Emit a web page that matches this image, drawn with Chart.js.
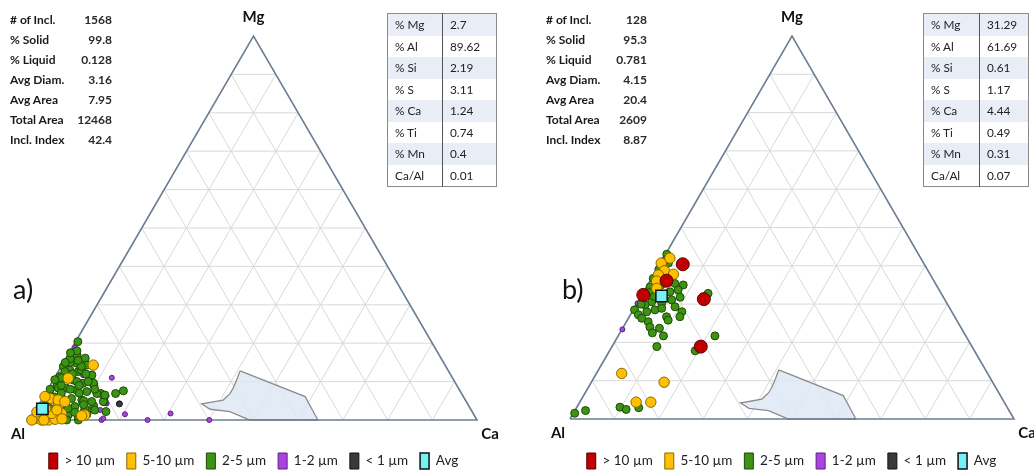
<!DOCTYPE html>
<html>
<head>
<meta charset="utf-8">
<title>Mg–Al–Ca inclusion ternary diagrams</title>
<script src="https://cdn.jsdelivr.net/npm/chart.js@4.4.1/dist/chart.umd.min.js"></script>
<style>
  html, body { margin: 0; padding: 0; background: #fff; }
  body { width: 1034px; height: 472px; position: relative; overflow: hidden;
         font-family: Lato, "Open Sans", sans-serif; color: #1a1a1a; }
  canvas { position: absolute; top: 0; }
  .stats { position: absolute; top: 10px; font-size: 12px; }
  .stats .row { height: 20px; line-height: 20px; display: flex; justify-content: space-between; }
  .stats .lab { font-weight: 700; }
  .stats .val { font-weight: 700; color: #2a2a2a; }
  table.comp { position: absolute; top: 13px; border-collapse: collapse; font-size: 11.8px;
               border: 1px solid #8a8a8a; table-layout: fixed; }
  table.comp td { height: 21.5px; padding: 0 0 0 7px; white-space: nowrap; color: #222; }
  table.comp td.k { border-right: 1.5px solid #555; }
  table.comp tr.alt td { background: #e8edf6; }
  .panel { position: absolute; font-size: 27px; color: #111; }
</style>
</head>
<body>
<canvas id="chartA" width="517" height="479" style="left:-5px"></canvas>
<canvas id="chartB" width="517" height="479" style="left:533px"></canvas>
<div class="panel" style="left:13px; top:272px;">a)</div>
<div class="panel" style="left:562px; top:272px;">b)</div>

<script>
// ---- Inclusion statistics ----
const statLabels = ['# of Incl.', '% Solid', '% Liquid', 'Avg Diam.', 'Avg Area', 'Total Area', 'Incl. Index'];
const statsA = ['1568', '99.8', '0.128', '3.16', '7.95', '12468', '42.4'];
const statsB = ['128', '95.3', '0.781', '4.15', '20.4', '2609', '8.87'];

// ---- Average composition tables ----
const compLabels = ['% Mg', '% Al', '% Si', '% S', '% Ca', '% Ti', '% Mn', 'Ca/Al'];
const compA = [2.7, 89.62, 2.19, 3.11, 1.24, 0.74, 0.4, 0.01];
const compB = [31.29, 61.69, 0.61, 1.17, 4.44, 0.49, 0.31, 0.07];

// ---- Size classes (legend) ----
const sizeLabels = ['> 10 µm', '5-10 µm', '2-5 µm', '1-2 µm', '< 1 µm', 'Avg'];

// ---- Inclusions, each as [% Mg, % Ca] of the Mg–Al–Ca sum (Al is the rest) ----
const a_gt10 = [];
const a_5to10 = [
  [0.4, 0.9], [0, 2.6], [0, 4.1], [0.2, 5.5], [1.7, 6.2], [1.3, 11.6], [1.3, 1.2], [1.7, 4.0],
  [3.9, 4.4], [5.6, 1.7], [5.2, 3.7], [4.8, 5.4], [2.6, 4.7], [10.9, 3.1], [14.3, 7.0], [6.1, 0.3],
  [1.1, 11.0], [0, 3.1], [0, 0.4], [2.1, 0.5], [0.3, 7.0], [3.0, 2.0]
];
const a_2to5 = [
  [20.4, 0.5], [16.1, 4.3], [11.3, 7.9], [9.1, 9.7], [6.9, 12.4], [6.9, 15.7], [7.6, 17.1], [4.8, 14.2],
  [3.7, 12.4], [2.2, 15.9], [0, 10.8], [14.8, 3.0], [13.9, 0.5], [13.0, 2.4], [12.6, 4.5], [14.3, 5.5],
  [11.7, 8.0], [11.3, 1.0], [10.4, 4.5], [9.6, 7.1], [9.6, 9.4], [8.7, 1.6], [8.3, 4.0], [7.8, 6.5],
  [7.4, 9.0], [6.9, 11.5], [6.1, 1.8], [5.6, 6.5], [5.2, 9.0], [4.8, 11.4], [3.5, 8.3], [3.0, 10.8],
  [2.6, 13.2], [1.3, 7.9], [0.9, 10.4], [0, 8.2], [8.3, 2.2], [12.6, 1.5], [4.8, 14.0], [6.5, 13.5],
  [3, 3], [4, 6], [6, 4], [8, 5], [10, 5.5], [12, 3.5], [9, 2.5], [7, 7.5], [5, 9.5], [3, 7],
  [2, 9], [1, 6.5], [11, 1.5], [13, 5], [15, 1.5], [17, 2], [14, 4.5], [10, 8], [8, 10.5], [6, 2.5],
  [4, 1.5], [2, 3], [12, 6.5], [16, 1], [18, 1.5], [15.5, 3], [11, 3], [9, 6.5], [7, 3.5], [5, 5],
  [3, 5], [2, 11], [4, 10], [1.5, 12], [17.5, 0.3], [15, 0.4], [10.5, 0.3], [8, 0.5]
];
const a_1to2 = [
  [18.9, 0.6], [11.7, 6.0], [11.0, 12.8], [6.25, 14.0], [1.5, 20.5], [0, 16.0], [0, 26.3], [1.7, 30.6],
  [0, 40.1], [1.6, 12.2], [2.6, 12.0], [4.3, 9.4], [4.3, 15.0], [2.6, 14.4], [0.4, 16.2]
];
const a_lt1 = [[4.2, 17.9]];

const b_gt10 = [[40.4, 5.2], [36.1, 3.7], [32.4, 0.3], [31.3, 14.5], [18.9, 20.0]];
const b_5to10 = [
  [40.7, 0.2], [42.0, 1.5], [38.7, 1.9], [37.6, 1.1], [37.8, 4.4], [36.0, 1.5], [34.1, 2.5],
  [11.9, 5.7], [9.6, 16.4], [4.4, 12.7], [4.4, 16.0]
];
const b_2to5 = [
  [43.0, 0.3], [40.7, 1.8], [36.7, 0.4], [34.5, 0.8], [35.4, 5.9], [35.0, 8.0], [33.7, 7.5], [33.2, 5.9],
  [31.8, 8.9], [31.1, 7.35], [30.2, 5.55], [30.6, 3.1], [29.8, 2.0], [28.5, 0.3], [27.2, 1.8], [28.0, 3.3],
  [28.5, 4.9], [28.9, 6.2], [29.3, 9.0], [28.0, 11.2], [26.7, 11.4], [26.7, 8.4], [25.8, 9.2], [25.4, 4.9],
  [26.3, 3.0], [23.7, 8.3], [21.7, 10.2], [21.7, 21.8], [32.8, 14.7], [18.9, 10.1], [17.8, 19.3],
  [1.5, 0.3], [2.2, 2.4], [3.1, 9.7], [2.5, 11.4], [2.95, 14.0],
  [39, 0.5], [41.5, 0.8], [37, 2.5], [35, 3], [33, 1.5], [32, 3], [30, 1], [24, 6], [22.5, 7.3]
];
const b_1to2 = [[30.2, 0.1], [23.4, 0.1]];
const b_lt1 = [];

// Liquid calcium-aluminate window, [% Mg, % Ca]
const liquidRegion = [
  [12.8, 40.6], [6.1, 58.5], [0, 64.4], [0, 49.2], [1.0, 46.6], [2.2, 43.6], [2.8, 38.9],
  [4.2, 36.3], [4.7, 38.6], [5.2, 40.6], [6.8, 41.3], [8.3, 41.3], [10.6, 41.0], [12.8, 40.6]
];

// ---- Ternary helpers: x runs Al -> Ca along the base, y is the Mg fraction ----
function toXY(mg, ca) {
  const m = mg / 100, c = ca / 100;
  return { x: c + m / 2, y: m };
}
const pts = arr => arr.map(p => toXY(p[0], p[1]));
function avgPoint(comp) {
  const mg = comp[0], al = comp[1], ca = comp[4];
  const s = mg + al + ca;
  return [toXY(100 * mg / s, 100 * ca / s)];
}

function lineDs(data, color, width, order, extra) {
  return Object.assign({
    type: 'line', label: '', data, borderColor: color, borderWidth: width,
    pointRadius: 0, fill: false, tension: 0, order, inLegend: false, clip: false
  }, extra || {});
}

function gridDatasets() {
  const ds = [];
  for (let k = 1; k < 10; k++) {
    const f = k / 10;
    ds.push(lineDs([{ x: f / 2, y: f }, { x: 1 - f / 2, y: f }], '#d9d9d9', 1, 10));        // constant Mg
    ds.push(lineDs([{ x: f, y: 0 }, { x: (1 + f) / 2, y: 1 - f }], '#d9d9d9', 1, 10));      // constant Ca
    ds.push(lineDs([{ x: 1 - f, y: 0 }, { x: (1 - f) / 2, y: 1 - f }], '#d9d9d9', 1, 10));  // constant Al
  }
  return ds;
}

function pointDs(label, data, bg, border, radius, style) {
  return {
    type: 'scatter', label, data, backgroundColor: bg, borderColor: border, borderWidth: 1,
    pointRadius: radius, pointHoverRadius: radius, pointStyle: style || 'circle',
    order: 0, inLegend: true, clip: false
  };
}

// Places the triangle corners (canvas pixels) by setting the linear scale ranges after layout
const pinTriangle = {
  id: 'pinTriangle',
  afterLayout(chart) {
    const o = chart.options.plugins.pinTriangle;
    const area = chart.chartArea;
    const xs = chart.scales.x, ys = chart.scales.y;
    const spanX = o.caX - o.alX;
    xs.min = -(o.alX - area.left) / spanX;
    xs.max = xs.min + (area.right - area.left) / spanX;
    const spanY = o.baseY - o.apexY;
    ys.min = -(area.bottom - o.baseY) / spanY;
    ys.max = ys.min + (area.bottom - area.top) / spanY;
    xs.configure();
    ys.configure();
  }
};

// Corner names
const cornerLabels = {
  id: 'cornerLabels',
  afterDatasetsDraw(chart) {
    const { ctx } = chart;
    const xs = chart.scales.x, ys = chart.scales.y;
    const al = [xs.getPixelForValue(0), ys.getPixelForValue(0)];
    const ca = [xs.getPixelForValue(1), ys.getPixelForValue(0)];
    const mg = [xs.getPixelForValue(0.5), ys.getPixelForValue(1)];
    ctx.save();
    ctx.font = 'bold 15px Lato, "Open Sans", sans-serif';
    ctx.fillStyle = '#111';
    ctx.textAlign = 'center';
    ctx.textBaseline = 'middle';
    ctx.fillText('Mg', mg[0], mg[1] - 19);
    ctx.fillText('Al', al[0] - 12, al[1] + 14);
    ctx.fillText('Ca', ca[0] + 13, ca[1] + 14);
    ctx.restore();
  }
};

function makeTernary(id, sets, comp, pin) {
  const datasets = [
    pointDs(sizeLabels[0], pts(sets[0]), '#c00000', '#5a0000', 6.5),
    pointDs(sizeLabels[1], pts(sets[1]), '#ffc000', '#8a6700', 5.2),
    pointDs(sizeLabels[2], pts(sets[2]), '#3c9412', '#1d4a06', 4),
    pointDs(sizeLabels[3], pts(sets[3]), '#a844e0', '#5b1f80', 2.5),
    pointDs(sizeLabels[4], pts(sets[4]), '#3a3a3a', '#111111', 3),
    Object.assign(pointDs(sizeLabels[5], avgPoint(comp), '#72f3f6', '#111111', 8, 'rect'), { borderWidth: 1.5, order: -1 }),
    lineDs(pts(liquidRegion), '#8c8c8c', 1.3, 9, { fill: 'shape', backgroundColor: 'rgba(222,233,245,0.85)' }),
    lineDs([{ x: 0, y: 0 }, { x: 1, y: 0 }, { x: 0.5, y: 1 }, { x: 0, y: 0 }], '#6b7d92', 1.6, 8),
    ...gridDatasets()
  ];
  return new Chart(document.getElementById(id), {
    type: 'scatter',
    data: { datasets },
    plugins: [pinTriangle, cornerLabels],
    options: {
      responsive: false,
      devicePixelRatio: 1,
      animation: false,
      events: [],
      layout: { padding: 0 },
      scales: {
        x: { type: 'linear', display: false, min: 0, max: 1 },
        y: { type: 'linear', display: false, min: 0, max: 1 }
      },
      plugins: {
        pinTriangle: pin,
        tooltip: { enabled: false },
        legend: {
          position: 'bottom',
          labels: {
            boxWidth: 9, boxHeight: 16, padding: 12, color: '#222',
            font: { family: 'Lato', size: 13.5 },
            filter: (item, data) => data.datasets[item.datasetIndex].inLegend,
            sort: (a, b) => a.datasetIndex - b.datasetIndex
          }
        }
      }
    }
  });
}

// ---- Text blocks ----
function addStats(values, left, width) {
  const d = document.createElement('div');
  d.className = 'stats';
  d.style.left = left + 'px';
  d.style.width = width + 'px';
  statLabels.forEach((l, i) => {
    const r = document.createElement('div');
    r.className = 'row';
    r.innerHTML = '<span class="lab"></span><span class="val"></span>';
    r.children[0].textContent = l;
    r.children[1].textContent = values[i];
    d.appendChild(r);
  });
  document.body.appendChild(d);
}
function addTable(values, left, width, keyWidth) {
  const t = document.createElement('table');
  t.className = 'comp';
  t.style.left = left + 'px';
  t.style.width = width + 'px';
  const cg = document.createElement('colgroup');
  cg.innerHTML = '<col style="width:' + keyWidth + 'px"><col>';
  t.appendChild(cg);
  compLabels.forEach((l, i) => {
    const tr = document.createElement('tr');
    if (i % 2 === 0) tr.className = 'alt';
    const k = document.createElement('td'); k.className = 'k'; k.textContent = l;
    const v = document.createElement('td'); v.textContent = String(values[i]);
    tr.appendChild(k); tr.appendChild(v);
    t.appendChild(tr);
  });
  document.body.appendChild(t);
}

addStats(statsA, 10, 102);
addStats(statsB, 546, 101);
addTable(compA, 387, 110, 55);
addTable(compB, 923, 106, 56);

makeTernary('chartA', [a_gt10, a_5to10, a_2to5, a_1to2, a_lt1], compA,
  { alX: 35, caX: 482, baseY: 420, apexY: 36 });
makeTernary('chartB', [b_gt10, b_5to10, b_2to5, b_1to2, b_lt1], compB,
  { alX: 37, caX: 481, baseY: 419, apexY: 36 });
</script>
</body>
</html>
